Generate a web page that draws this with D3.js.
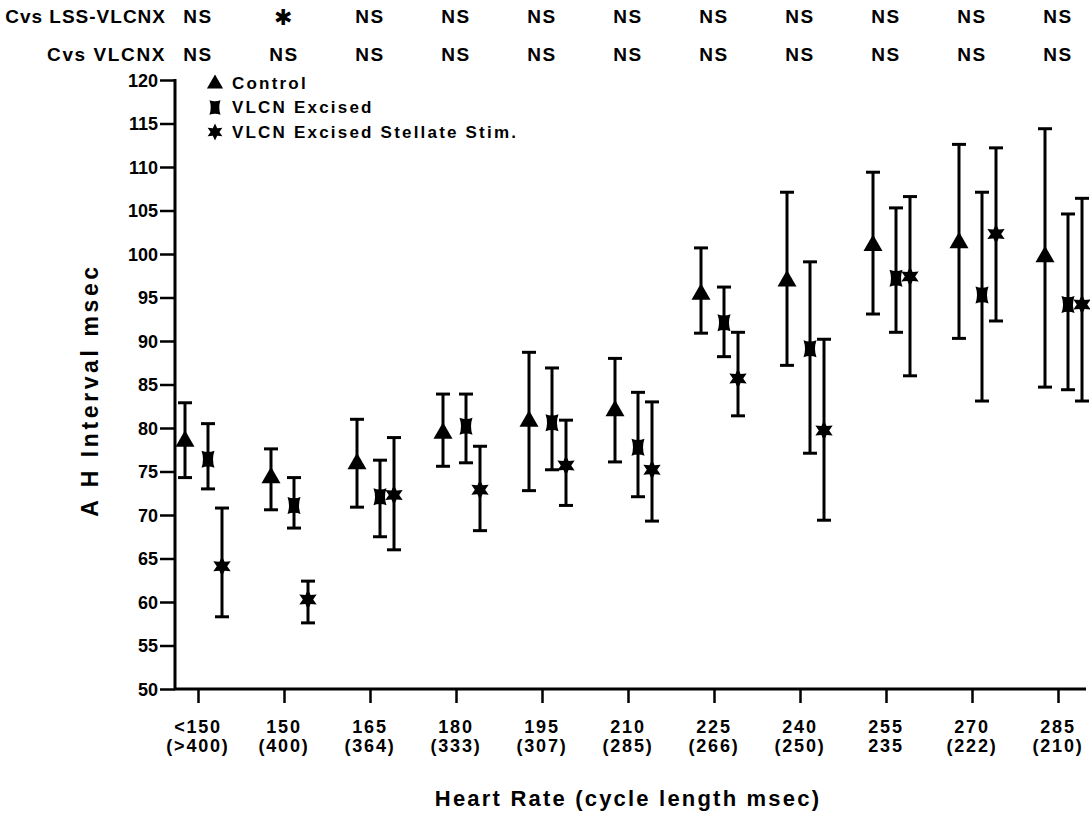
<!DOCTYPE html>
<html><head><meta charset="utf-8">
<script src="https://cdn.jsdelivr.net/npm/d3@7"></script>
<style>
body{margin:0;background:#fff;}
svg{display:block;font-family:"Liberation Sans",Arial,Helvetica,sans-serif;font-weight:bold;}
</style></head><body>
<svg id="chart" width="1090" height="814"></svg>
<script>
// ---------- data ----------
const categories  = ["<150","150","165","180","195","210","225","240","255","270","285"];
const cycleLabels = ["(>400)","(400)","(364)","(333)","(307)","(285)","(266)","(250)","235","(222)","(210)"];
const yTicks = [50,55,60,65,70,75,80,85,90,95,100,105,110,115,120];

const controlMean  = [78.6, 74.4, 76.0, 79.5, 80.9, 82.1, 95.5, 97.0, 101.1, 101.4, 99.8];
const controlUpper = [82.9, 77.6, 81.0, 83.9, 88.7, 88.0, 100.7, 107.1, 109.4, 112.6, 114.4];
const controlLower = [74.3, 70.6, 70.9, 75.6, 72.8, 76.1, 90.9, 87.2, 93.1, 90.3, 84.7];

const vlcnMean  = [76.4, 71.1, 72.1, 80.2, 80.6, 77.8, 92.1, 89.1, 97.2, 95.3, 94.2];
const vlcnUpper = [80.5, 74.3, 76.3, 83.9, 86.9, 84.1, 96.2, 99.1, 105.3, 107.1, 104.6];
const vlcnLower = [73.0, 68.5, 67.5, 76.0, 75.2, 72.1, 88.2, 77.1, 91.0, 83.1, 84.4];

const stimMean  = [64.1, 60.3, 72.3, 72.9, 75.7, 75.2, 85.7, 79.7, 97.4, 102.3, 94.2];
const stimUpper = [70.8, 62.4, 78.9, 77.9, 80.9, 83.0, 91.0, 90.2, 106.6, 112.2, 106.4];
const stimLower = [58.3, 57.6, 66.0, 68.2, 71.1, 69.3, 81.4, 69.4, 86.0, 92.3, 83.1];

const seriesNames = ["Control","VLCN Excised","VLCN Excised Stellate Stim."];

const rowLssLabel  = "Cvs LSS-VLCNX";
const rowLss       = ["NS","\u2731","NS","NS","NS","NS","NS","NS","NS","NS","NS"];
const rowVlcnLabel = "Cvs VLCNX";
const rowVlcn      = ["NS","NS","NS","NS","NS","NS","NS","NS","NS","NS","NS"];

const yTitle = "A H Interval msec";
const xTitle = "Heart Rate (cycle length msec)";

// ---------- layout ----------
const svg = d3.select("#chart");
const x = d3.scalePoint().domain(categories).range([198, 1058]);
const y = d3.scaleLinear().domain([50, 120]).range([689, 80]);
const axisX0 = 175, axisXEnd = 1086;

// marker shapes
const triPath = "M0,-10L9.5,6.5L-9.5,6.5Z";
const bowPath = "M-6.5,-8.5Q0,-6 6.5,-8.5Q3.5,0 6.5,8.5Q0,6 -6.5,8.5Q-3.5,0 -6.5,-8.5Z";
function starPath(n, R, r){
  const pts = [];
  for(let i=0;i<2*n;i++){
    const a = -Math.PI/2 + i*Math.PI/n;
    const rad = i%2===0 ? R : r;
    pts.push([rad*Math.cos(a), rad*Math.sin(a)]);
  }
  return "M" + pts.map(p=>p[0].toFixed(2)+","+p[1].toFixed(2)).join("L") + "Z";
}
const stPath = starPath(6, 10, 5.2);

const series = [
  {name: seriesNames[0], mean: controlMean, up: controlUpper, lo: controlLower, path: triPath, dx: -13},
  {name: seriesNames[1], mean: vlcnMean,    up: vlcnUpper,    lo: vlcnLower,    path: bowPath, dx: 10},
  {name: seriesNames[2], mean: stimMean,    up: stimUpper,    lo: stimLower,    path: stPath,  dx: 24}
];

// ---------- axes ----------
const yAxis = d3.axisLeft(y).tickValues(yTicks).tickSize(15).tickPadding(2).tickSizeOuter(0);
const gy = svg.append("g").attr("transform", `translate(${axisX0},0)`).call(yAxis);
gy.select(".domain").remove();
gy.selectAll(".tick line").attr("stroke","#000").attr("stroke-width",2.5);
gy.selectAll(".tick text").attr("font-size",18).attr("font-family","Liberation Sans, Arial, sans-serif")
  .attr("font-weight","bold").attr("fill","#000").attr("dy","0.35em");
svg.append("line").attr("x1",axisX0).attr("x2",axisX0).attr("y1",y(120)-1).attr("y2",y(50)+1)
  .attr("stroke","#000").attr("stroke-width",3);

const xAxis = d3.axisBottom(x).tickSize(14).tickSizeOuter(0).tickFormat("");
const gx = svg.append("g").attr("transform", `translate(0,${y(50)})`).call(xAxis);
gx.select(".domain").remove();
gx.selectAll(".tick line").attr("stroke","#000").attr("stroke-width",2.5);
svg.append("line").attr("x1",axisX0-1).attr("x2",axisXEnd).attr("y1",y(50)).attr("y2",y(50))
  .attr("stroke","#000").attr("stroke-width",3);

// two-line x tick labels
const xl = svg.append("g").attr("font-size",18).attr("letter-spacing",1.8).attr("text-anchor","middle");
categories.forEach((c,i)=>{
  const t = xl.append("text").attr("x", x(c)).attr("y", 733);
  t.append("tspan").attr("x", x(c)).attr("y",733).text(c);
  t.append("tspan").attr("x", x(c)).attr("y",752).text(cycleLabels[i]);
});

// axis titles
svg.append("text").attr("x", 628).attr("y", 806).attr("text-anchor","middle")
  .attr("font-size",22).attr("letter-spacing",2.2).text(xTitle);
svg.append("text").attr("transform","translate(98,390) rotate(-90)").attr("text-anchor","middle")
  .attr("font-size",23).attr("letter-spacing",3.6).text(yTitle);

// ---------- top significance rows ----------
const sigG = svg.append("g").attr("font-size",19).attr("letter-spacing",1.5);
sigG.append("text").attr("x",166).attr("y",23).attr("text-anchor","end").attr("letter-spacing",1.0).text(rowLssLabel);
sigG.append("text").attr("x",166).attr("y",61).attr("text-anchor","end").attr("letter-spacing",1.6).text(rowVlcnLabel);
sigG.selectAll(".r1").data(rowLss).join("text").attr("class","r1")
  .attr("x",(d,i)=>x(categories[i])).attr("y",(d)=> d==="NS"?23:25).attr("text-anchor","middle")
  .attr("font-family",d=> d==="NS" ? null : "DejaVu Sans")
  .attr("font-size",d=> d==="NS" ? 19 : 22)
  .text(d=>d);
sigG.selectAll(".r2").data(rowVlcn).join("text").attr("class","r2")
  .attr("x",(d,i)=>x(categories[i])).attr("y",61).attr("text-anchor","middle").text(d=>d);

// ---------- error bars & markers ----------
const capW = 7;
series.forEach(s=>{
  const g = svg.append("g");
  const pts = categories.map((c,i)=>({cx: x(c)+s.dx, m: s.mean[i], u: s.up[i], l: s.lo[i]}));
  g.selectAll(".eb").data(pts).join("line").attr("class","eb")
    .attr("x1",d=>d.cx).attr("x2",d=>d.cx).attr("y1",d=>y(d.u)).attr("y2",d=>y(d.l))
    .attr("stroke","#000").attr("stroke-width",3);
  g.selectAll(".cu").data(pts).join("line").attr("class","cu")
    .attr("x1",d=>d.cx-capW).attr("x2",d=>d.cx+capW).attr("y1",d=>y(d.u)).attr("y2",d=>y(d.u))
    .attr("stroke","#000").attr("stroke-width",3);
  g.selectAll(".cl").data(pts).join("line").attr("class","cl")
    .attr("x1",d=>d.cx-capW).attr("x2",d=>d.cx+capW).attr("y1",d=>y(d.l)).attr("y2",d=>y(d.l))
    .attr("stroke","#000").attr("stroke-width",3);
  g.selectAll(".mk").data(pts).join("path").attr("class","mk")
    .attr("d", s.path).attr("transform",d=>`translate(${d.cx},${y(d.m)})`).attr("fill","#000");
});

// ---------- legend ----------
const lg = svg.append("g").attr("font-size",17).attr("letter-spacing",2.2);
series.forEach((s,i)=>{
  const ly = 83 + i*24.5;
  lg.append("path").attr("d", s.path).attr("transform",`translate(215,${ly}) scale(0.85)`).attr("fill","#000");
  lg.append("text").attr("x",232).attr("y",ly).attr("dy","0.35em").text(s.name);
});
</script>
</body></html>
